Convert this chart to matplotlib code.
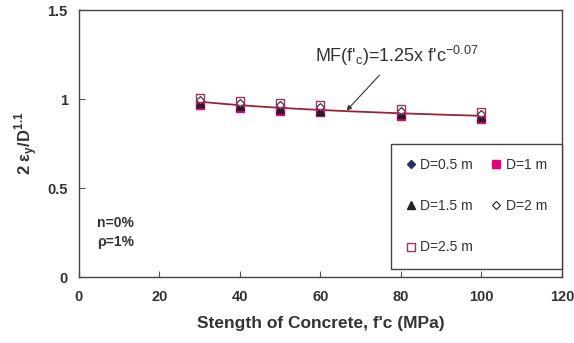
import numpy as np
import matplotlib
matplotlib.use("Agg")
import matplotlib.pyplot as plt

plt.rcParams['font.family'] = ['Liberation Sans', 'DejaVu Sans']

fc = [30, 40, 50, 60, 80, 100]
d05 = [0.985, 0.97, 0.955, 0.945, 0.925, 0.905]
d1 = [0.965, 0.95, 0.935, 0.925, 0.905, 0.89]
d15 = [0.975, 0.96, 0.945, 0.935, 0.915, 0.90]
d2 = [0.995, 0.98, 0.965, 0.955, 0.935, 0.915]
d25 = [1.005, 0.99, 0.975, 0.965, 0.945, 0.925]
fit_a, fit_b = 1.25, -0.07
xticks = [0, 20, 40, 60, 80, 100, 120]
yticks = [0, 0.5, 1, 1.5]
ytick_labels = ['0', '0.5', '1', '1.5']

fig = plt.figure(figsize=(5.74, 3.43), dpi=100)
ax = fig.add_axes([0.1376, 0.1924, 0.979 - 0.1376, 0.9708 - 0.1924])

xf = np.linspace(fc[0], fc[-1], 100)
ax.plot(xf, fit_a * xf ** fit_b, color='#9B2335', lw=1.3, zorder=2)

tc = '#333333'
h05, = ax.plot(fc, d05, ls='none', marker='D', ms=4, color='#2B2B6B', label='D=0.5 m', zorder=3)
h1, = ax.plot(fc, d1, ls='none', marker='s', ms=5.5, color='#E6007E', label='D=1 m', zorder=3)
h15, = ax.plot(fc, d15, ls='none', marker='^', ms=5.5, color='#222222', label='D=1.5 m', zorder=3)
h2, = ax.plot(fc, d2, ls='none', marker='D', ms=4, mfc='white', mec='#222222', mew=0.8, label='D=2 m', zorder=4)
h25, = ax.plot(fc, d25, ls='none', marker='s', ms=5.5, mfc='none', mec='#993366', mew=1.0, label='D=2.5 m', zorder=4)

ax.set_xlim(0, 120)
ax.set_ylim(0, 1.5)
ax.set_xticks(xticks)
ax.set_yticks(yticks)
ax.set_yticklabels(ytick_labels)
ax.tick_params(direction='in', length=4, width=0.8, colors='#555555', labelcolor=tc, labelsize=10.5, pad=8)
ax.tick_params(axis='x', pad=9)
for lab in ax.get_xticklabels() + ax.get_yticklabels():
    lab.set_fontweight('bold')
for s in ax.spines.values():
    s.set_color('#444444')
    s.set_linewidth(1.0)

ax.set_xlabel("Stength of Concrete, f'c (MPa)", fontsize=12.5, fontweight='bold', color=tc, labelpad=9)
ax.set_ylabel('2 ε$_\\mathregular{y}$/D$^\\mathregular{1.1}$', fontsize=12, fontweight='bold', color=tc, labelpad=5)

ax.annotate("MF(f'$_\\mathregular{c}$)=1.25x f'c$^\\mathregular{-0.07}$",
            xy=(66.5, 0.935), xytext=(79.0, 1.24), ha='center', va='center',
            fontsize=13, color=tc,
            arrowprops=dict(arrowstyle='-|>', color='#333333', lw=0.8, mutation_scale=7,
                            shrinkA=4, shrinkB=0))

ax.text(4.5, 0.25, 'n=0%\nρ=1%', fontsize=10, fontweight='bold', color=tc,
        ha='left', va='center', linespacing=1.4)

handles = [h05, h15, h25, h1, h2]
leg = ax.legend(handles=handles, ncol=2, loc='lower right', bbox_to_anchor=(1.0, 0.03), fontsize=10,
                frameon=True, fancybox=False, edgecolor='#444444', framealpha=1,
                labelspacing=1.95, columnspacing=1.3, handlelength=0.7, handletextpad=0.35,
                borderpad=1.05, borderaxespad=0.0)
leg.get_frame().set_linewidth(1.0)
for t in leg.get_texts():
    t.set_color(tc)

fig.savefig('out.png', dpi=100)
